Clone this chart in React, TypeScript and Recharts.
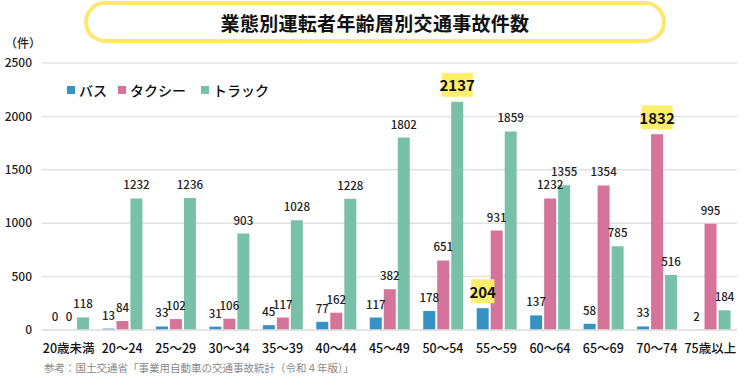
import React from 'react';
import { BarChart, Bar, XAxis, YAxis, CartesianGrid, LabelList } from 'recharts';

const categories = ['20歳未満', '20〜24', '25〜29', '30〜34', '35〜39', '40〜44', '45〜49', '50〜54', '55〜59', '60〜64', '65〜69', '70〜74', '75歳以上'];
const busValues = [0, 13, 33, 31, 45, 77, 117, 178, 204, 137, 58, 33, 2];
const taxiValues = [0, 84, 102, 106, 117, 162, 382, 651, 931, 1232, 1354, 1832, 995];
const truckValues = [118, 1232, 1236, 903, 1028, 1228, 1802, 2137, 1859, 1355, 785, 516, 184];
const yTicks = [0, 500, 1000, 1500, 2000, 2500];
const seriesNames = ['バス', 'タクシー', 'トラック'];
// highlighted labels: [seriesKey, categoryName]
const highlights: [string, string][] = [['truck', '50〜54'], ['bus', '55〜59'], ['taxi', '70〜74']];

const title = '業態別運転者年齢層別交通事故件数';
const unitLabel = '（件）';
const sourceNote = '参考：国土交通省「事業用自動車の交通事故統計（令和４年版）」';

const COLORS = { bus: '#3592c2', taxi: '#d5739a', truck: '#78c0a8' };
const FONT = '"Noto Sans CJK JP", "Noto Sans", sans-serif';

const seriesValues: Record<string, number[]> = { bus: busValues, taxi: taxiValues, truck: truckValues };

const data = categories.map((c, i) => ({
  name: c,
  bus: busValues[i],
  taxi: taxiValues[i],
  truck: truckValues[i],
}));

const isHighlighted = (key: string, value: any) =>
  highlights.some(([k, cat]) => k === key && seriesValues[k][categories.indexOf(cat)] === Number(value));

const makeLabel = (key: string) => (props: any) => {
  const { x, y, width, value } = props;
  const cx = Number(x) + Number(width) / 2;
  const top = Number(y);
  if (isHighlighted(key, value)) {
    const s = String(value);
    const w = s.length * 7.8;
    return (
      <g>
        <rect x={cx - w / 2} y={top - 29} width={w} height={24} fill="#fdee6c" />
        <text x={cx} y={top - 17} textAnchor="middle" dominantBaseline="central" fontSize={15} fontWeight="bold" fill="#111" fontFamily={FONT}>
          {s}
        </text>
      </g>
    );
  }
  return (
    <text x={cx} y={top - 14} textAnchor="middle" dominantBaseline="central" fontSize={11.5} fontWeight={500} fill="#222" fontFamily={FONT}>
      {value}
    </text>
  );
};

const LegendOverlay = () => {
  const items = [
    { name: seriesNames[0], color: COLORS.bus, x: 67 },
    { name: seriesNames[1], color: COLORS.taxi, x: 118 },
    { name: seriesNames[2], color: COLORS.truck, x: 201 },
  ];
  return (
    <div style={{ position: 'absolute', left: 0, top: 0 }}>
      {items.map((it) => (
        <div key={it.name} style={{ position: 'absolute', left: it.x, top: 81, display: 'flex', alignItems: 'center', whiteSpace: 'nowrap' }}>
          <span style={{ display: 'inline-block', width: 8, height: 8, background: it.color, marginRight: 4 }} />
          <span style={{ fontFamily: FONT, fontSize: 14, fontWeight: 500, color: '#111', lineHeight: '18px' }}>{it.name}</span>
        </div>
      ))}
    </div>
  );
};

export default function App() {
  return (
    <div style={{ position: 'absolute', left: 0, top: 0, width: 750, height: 381, background: '#fff', fontFamily: FONT }}>
      <div
        style={{
          position: 'absolute', left: 84, top: 1, width: 574, height: 34,
          border: '4px solid #fde86e', borderRadius: 22, display: 'flex', alignItems: 'center', justifyContent: 'center',
          fontSize: 19, fontWeight: 'bold', color: '#111', letterSpacing: 0.3,
        }}
      >
        {title}
      </div>
      <div style={{ position: 'absolute', left: 5, top: 34, fontSize: 12, fontWeight: 500, color: '#222' }}>{unitLabel}</div>
      <BarChart
        width={750}
        height={381}
        data={data}
        margin={{ top: 63, right: 13, bottom: 31, left: 0 }}
        barSize={12}
        barGap={2}
      >
        <CartesianGrid vertical={false} stroke="#e2e2e2" strokeWidth={1.5} />
        <XAxis
          dataKey="name"
          height={20}
          axisLine={{ stroke: '#e2e2e2', strokeWidth: 1.5 }}
          tickLine={false}
          interval={0}
          tick={{ fontSize: 12.5, fontWeight: 500, fill: '#111', fontFamily: FONT }}
          tickMargin={8}
        />
        <YAxis
          width={42}
          domain={[0, 2500]}
          ticks={yTicks}
          axisLine={false}
          tickLine={false}
          tickMargin={4}
          tick={{ fontSize: 12, fontWeight: 500, fill: '#222', fontFamily: FONT }}
        />
        <Bar dataKey="bus" fill={COLORS.bus} minPointSize={0.01} isAnimationActive={false}>
          <LabelList dataKey="bus" content={makeLabel('bus')} />
        </Bar>
        <Bar dataKey="taxi" fill={COLORS.taxi} minPointSize={0.01} isAnimationActive={false}>
          <LabelList dataKey="taxi" content={makeLabel('taxi')} />
        </Bar>
        <Bar dataKey="truck" fill={COLORS.truck} isAnimationActive={false}>
          <LabelList dataKey="truck" content={makeLabel('truck')} />
        </Bar>
      </BarChart>
      <LegendOverlay />
      <div style={{ position: 'absolute', left: 44, top: 360, fontSize: 10.5, color: '#888', whiteSpace: 'nowrap' }}>{sourceNote}</div>
    </div>
  );
}
